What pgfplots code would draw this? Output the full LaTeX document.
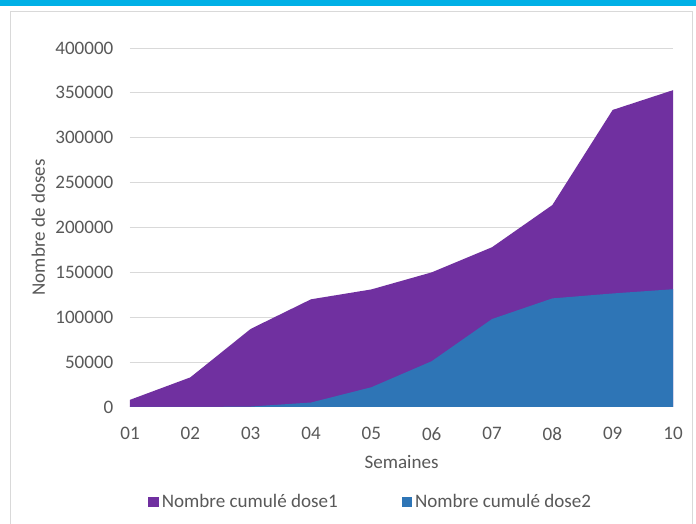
\documentclass[border=0pt]{standalone}
\usepackage{pgfplots}
\pgfplotsset{compat=1.18}
\usepackage{fontspec}
\setmainfont{Carlito}
\definecolor{txt}{HTML}{595959}
\definecolor{gridc}{HTML}{D9D9D9}
\definecolor{dosea}{HTML}{7030A0}
\definecolor{doseb}{HTML}{2E75B6}
\definecolor{topbar}{HTML}{00B0E6}
\begin{document}
\fontsize{14.3}{17}\selectfont
\begin{tikzpicture}[x=0.75pt,y=0.75pt]
% pixel (px,py) -> (px-130, 407-py)
\path[use as bounding box] (-130,-117) rectangle (566,407);
\fill[white] (-130,-117) rectangle (566,407);
\fill[topbar] (-130,407) rectangle (566,401);
\draw[gridc, line width=0.75pt] (-119,-130) rectangle (562,395);
\begin{axis}[
  at={(0,0)}, anchor=origin,
  scale only axis,
  width=407.25pt, height=269.25pt,
  xmin=0, xmax=9, ymin=0, ymax=400000,
  xtick={0,...,9},
  xticklabels={01,02,03,04,05,06,07,08,09,10},
  ytick={0,50000,...,400000},
  scaled y ticks=false,
  /pgf/number format/assume math mode=true,
  yticklabel style={/pgf/number format/fixed, /pgf/number format/1000 sep={}},
  ymajorgrids, grid style={gridc, line width=0.75pt},
  axis x line*=bottom, axis y line*=left,
  y axis line style={draw=none},
  x axis line style={gridc, line width=0.75pt, -},
  major tick length=0pt,
  tick label style={txt, font=\fontsize{14.3}{17}\selectfont},
  xticklabel style={yshift=-10.5pt},
  yticklabel style={xshift=-7.5pt},
  xlabel={Semaines}, ylabel={Nombre de doses},
  label style={txt, font=\fontsize{14.3}{17}\selectfont},
  xlabel style={yshift=-1.5pt},
  ylabel style={yshift=-2pt},
  legend columns=2,
  legend style={at={(0.444,-0.2646)}, anchor=center, draw=none, fill=none,
    text=txt, font=\fontsize{14.3}{17}\selectfont,
    /tikz/every even column/.append style={column sep=46pt}},
  legend image code/.code={\fill[#1] (0pt,-4pt) rectangle (8pt,4pt);},
  clip=false,
]
\addplot[fill=dosea, draw=none] coordinates {
 (0,8000) (1,33000) (2,87000) (3,120000) (4,131000) (5,150000) (6,178000) (7,225000) (8,331000) (9,353000)
} \closedcycle;
\addlegendentry{Nombre cumulé dose1}
\addplot[fill=doseb, draw=none] coordinates {
 (0,0) (1,0) (2,500) (3,5000) (4,22000) (5,51000) (6,98000) (7,121000) (8,126500) (9,131200)
} \closedcycle;
\addlegendentry{Nombre cumulé dose2}
\end{axis}
\end{tikzpicture}
\end{document}
